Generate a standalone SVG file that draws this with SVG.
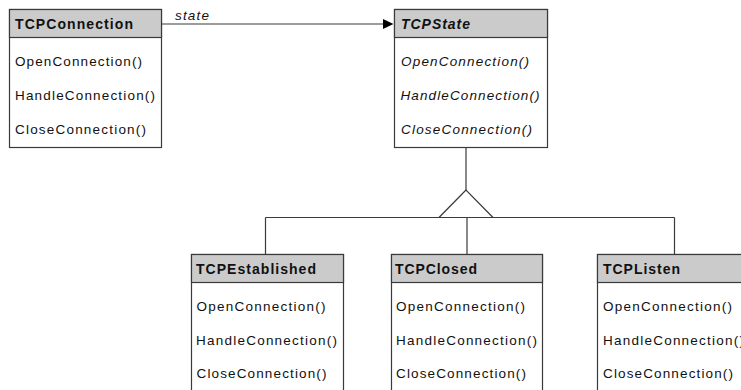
<svg xmlns="http://www.w3.org/2000/svg" width="741" height="390" viewBox="0 0 741 390">
<style>
.box{fill:#ffffff;stroke:#3a3a3a;stroke-width:1.2}
.hdr{fill:#cbcbcb;stroke:#3a3a3a;stroke-width:1.2}
.t{font-family:"Liberation Sans",Arial,sans-serif;font-size:13.5px;fill:#111}
.b{font-weight:bold;font-size:14px}
.i{font-style:italic}
.ln{fill:none;stroke:#3a3a3a;stroke-width:1.2}
</style>
<rect width="741" height="390" fill="#ffffff"/>
<g id="connectors">
  <line class="ln" x1="162" y1="24" x2="384" y2="24"/>
  <polygon points="383,19 393.5,24 383,29" fill="#000"/>
  <text class="t i" x="175" y="20" font-size="12.5" textLength="34" lengthAdjust="spacing">state</text>
  <line class="ln" x1="466" y1="147.5" x2="466" y2="190"/>
  <line class="ln" x1="265.5" y1="217.5" x2="674.5" y2="217.5"/>
  <polygon class="ln" points="466,190 439,217.5 493,217.5" fill="#fff"/>
  <line class="ln" x1="265.5" y1="217.5" x2="265.5" y2="254.5"/>
  <line class="ln" x1="467" y1="217.5" x2="467" y2="254.5"/>
  <line class="ln" x1="674.5" y1="217.5" x2="674.5" y2="254.5"/>
</g>
<g id="TCPConnection">
  <rect class="box" x="9.5" y="9.5" width="152" height="138"/>
  <rect class="hdr" x="9.5" y="9.5" width="152" height="28"/>
  <text class="t b" x="15" y="29" textLength="118" lengthAdjust="spacing">TCPConnection</text>
  <text class="t" x="15" y="66" textLength="127" lengthAdjust="spacing">OpenConnection()</text>
  <text class="t" x="15" y="100" textLength="140" lengthAdjust="spacing">HandleConnection()</text>
  <text class="t" x="15" y="133.5" textLength="131" lengthAdjust="spacing">CloseConnection()</text>
</g>
<g id="TCPState">
  <rect class="box" x="394.5" y="9.5" width="153" height="138"/>
  <rect class="hdr" x="394.5" y="9.5" width="153" height="28"/>
  <text class="t b i" x="401" y="29" textLength="69" lengthAdjust="spacing">TCPState</text>
  <text class="t i" x="401" y="66" textLength="128" lengthAdjust="spacing">OpenConnection()</text>
  <text class="t i" x="400.5" y="100" textLength="139" lengthAdjust="spacing">HandleConnection()</text>
  <text class="t i" x="401" y="133.5" textLength="131" lengthAdjust="spacing">CloseConnection()</text>
</g>
<g id="TCPEstablished">
  <rect class="box" x="191.5" y="254.5" width="152" height="140"/>
  <rect class="hdr" x="191.5" y="254.5" width="152" height="28"/>
  <text class="t b" x="196" y="274" textLength="120" lengthAdjust="spacing">TCPEstablished</text>
  <text class="t" x="196.5" y="311" textLength="129" lengthAdjust="spacing">OpenConnection()</text>
  <text class="t" x="196" y="344.5" textLength="141" lengthAdjust="spacing">HandleConnection()</text>
  <text class="t" x="196.5" y="378" textLength="130" lengthAdjust="spacing">CloseConnection()</text>
</g>
<g id="TCPClosed">
  <rect class="box" x="391.5" y="254.5" width="151" height="140"/>
  <rect class="hdr" x="391.5" y="254.5" width="151" height="28"/>
  <text class="t b" x="395" y="274" textLength="82" lengthAdjust="spacing">TCPClosed</text>
  <text class="t" x="396" y="311" textLength="129" lengthAdjust="spacing">OpenConnection()</text>
  <text class="t" x="396" y="344.5" textLength="141" lengthAdjust="spacing">HandleConnection()</text>
  <text class="t" x="396" y="378" textLength="130" lengthAdjust="spacing">CloseConnection()</text>
</g>
<g id="TCPListen">
  <rect class="box" x="597.5" y="254.5" width="160" height="140"/>
  <rect class="hdr" x="597.5" y="254.5" width="160" height="28"/>
  <text class="t b" x="603" y="274" textLength="77" lengthAdjust="spacing">TCPListen</text>
  <text class="t" x="603" y="311" textLength="129" lengthAdjust="spacing">OpenConnection()</text>
  <text class="t" x="603" y="344.5" textLength="141" lengthAdjust="spacing">HandleConnection()</text>
  <text class="t" x="603" y="378" textLength="130" lengthAdjust="spacing">CloseConnection()</text>
</g>
</svg>
